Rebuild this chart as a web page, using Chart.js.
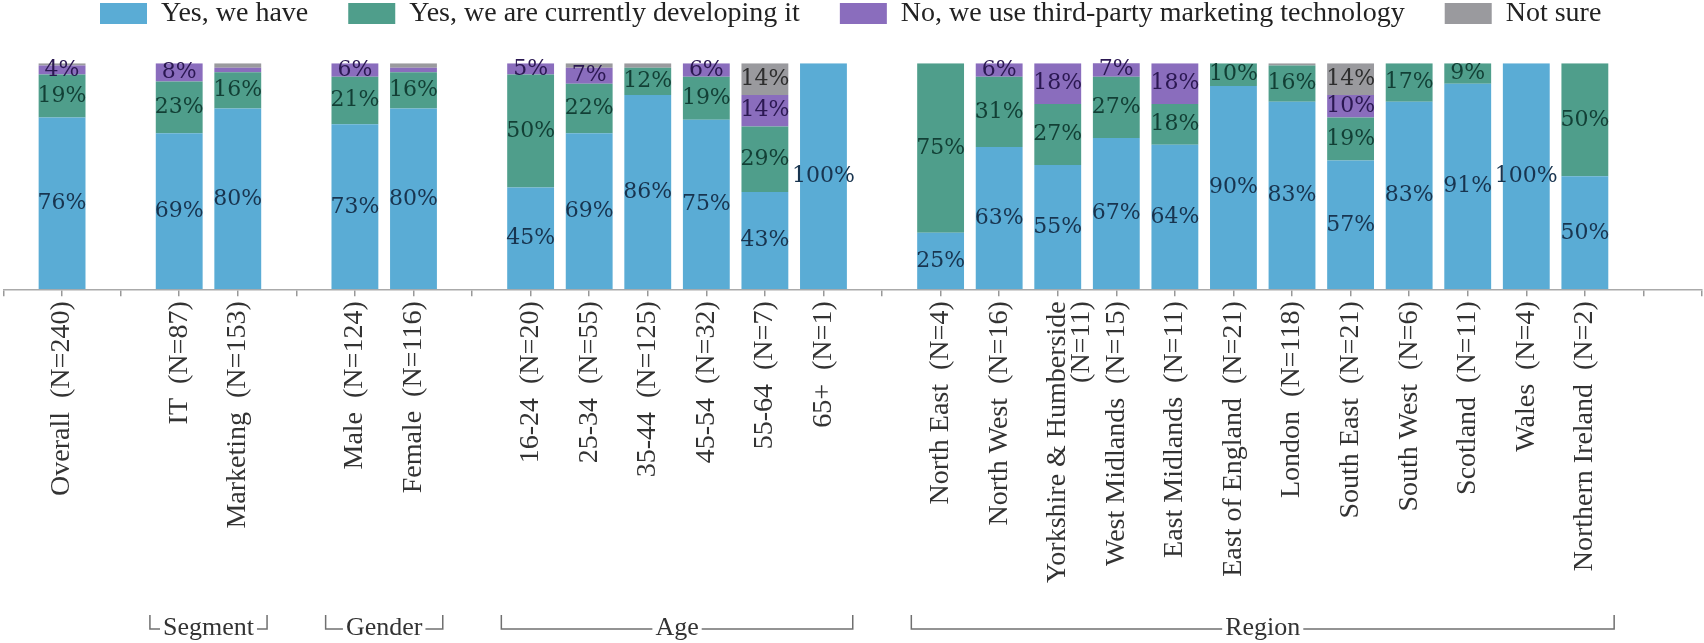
<!DOCTYPE html>
<html lang="en">
<head>
<meta charset="utf-8">
<title>Own marketing technology</title>
<script src="https://cdn.jsdelivr.net/npm/chart.js@4.4.1/dist/chart.umd.min.js"></script>
<style>
  body { margin: 0; background: #fff; }
  #wrap { width: 1704px; height: 643px; }
</style>
</head>
<body>
<div id="wrap"><canvas id="grafico" width="1704" height="643"></canvas></div>
<script>
// categories: empty strings are the spacer columns between groups
const categorias = [
  "", "Overall  (N=240)", "",
  "IT  (N=87)", "Marketing  (N=153)", "",
  "Male  (N=124)", "Female  (N=116)", "",
  "16-24  (N=20)", "25-34  (N=55)", "35-44  (N=125)", "45-54  (N=32)", "55-64  (N=7)", "65+  (N=1)", "",
  "North East  (N=4)", "North West  (N=16)", ["Yorkshire & Humberside", "(N=11)"], "West Midlands  (N=15)",
  "East Midlands  (N=11)", "East of England  (N=21)", "London  (N=118)", "South East  (N=21)",
  "South West  (N=6)", "Scotland  (N=11)", "Wales  (N=4)", "Northern Ireland  (N=2)", "", ""
]

const series = [
  "Yes, we have",
  "Yes, we are currently developing it",
  "No, we use third-party marketing technology",
  "Not sure"
]

const siTenemos = [null, 76, null, 69, 80, null, 73, 80, null, 45, 69, 86, 75, 43, 100, null,
  25, 63, 55, 67, 64, 90, 83, 57, 83, 91, 100, 50, null, null]
const desarrollando = [null, 19, null, 23, 16, null, 21, 16, null, 50, 22, 12, 19, 29, 0, null,
  75, 31, 27, 27, 18, 10, 16, 19, 17, 9, 0, 50, null, null]
const terceros = [null, 4, null, 8, 2, null, 6, 2, null, 5, 7, 0, 6, 14, 0, null,
  0, 6, 18, 7, 18, 0, 0, 10, 0, 0, 0, 0, null, null]
const noSeguro = [null, 1, null, 0, 2, null, 0, 2, null, 0, 2, 2, 0, 14, 0, null,
  0, 0, 0, 0, 0, 0, 1, 14, 0, 0, 0, 0, null, null]

// brackets under the axis
const grupos = ["Segment", "Gender", "Age", "Region"]
const gruposInicio = [3, 6, 9, 16]
const gruposFin = [4, 7, 14, 27]

const colores = ["#5aacd5", "#4f9e8b", "#8a6dbd", "#9a9a9e"]
const coloresTexto = ["#18344f", "#123f35", "#2b1852", "#2e2e2e"]


///PERCENT LABELS INSIDE EACH SEGMENT
const etiquetasPlugin = {
  id: "etiquetas",
  afterDatasetsDraw(chart) {
    const ctx = chart.ctx
    ctx.save()
    ctx.font = '22px "DejaVu Serif"'
    ctx.textAlign = "center"
    ctx.textBaseline = "middle"
    chart.data.datasets.forEach((ds, i) => {
      const meta = chart.getDatasetMeta(i)
      meta.data.forEach((barra, j) => {
        const v = ds.data[j]
        if (v == null || v < 3) return
        const {x, y, base} = barra.getProps(["x", "y", "base"], true)
        ctx.fillStyle = coloresTexto[i]
        ctx.fillText(v + "%", x, (y + base) / 2)
      })
    })
    ctx.restore()
  }
}


///LEGEND ROW AT THE TOP
const leyendaPlugin = {
  id: "leyenda",
  afterDraw(chart) {
    const ctx = chart.ctx
    ctx.save()
    ctx.font = '28px "Liberation Serif"'
    ctx.textBaseline = "middle"
    let x = 100
    chart.data.datasets.forEach((ds) => {
      ctx.fillStyle = ds.backgroundColor
      ctx.fillRect(x, 3, 47, 21)
      x += 47 + 14
      ctx.fillStyle = "#222"
      ctx.fillText(ds.label, x, 14)
      x += ctx.measureText(ds.label).width + 40
    })
    ctx.restore()
  }
}


///GROUP BRACKETS BELOW THE CATEGORY LABELS
const gruposPlugin = {
  id: "grupos",
  afterDraw(chart) {
    const ctx = chart.ctx
    const escala = chart.scales.x
    const mitad = (escala.getPixelForValue(1) - escala.getPixelForValue(0)) / 2
    const yLinea = 629
    ctx.save()
    ctx.font = '26px "Liberation Serif"'
    ctx.textAlign = "center"
    ctx.textBaseline = "middle"
    grupos.forEach((nombre, k) => {
      const x0 = escala.getPixelForValue(gruposInicio[k]) - mitad
      const x1 = escala.getPixelForValue(gruposFin[k]) + mitad
      const cx = (x0 + x1) / 2
      ctx.strokeStyle = "#707070"
      ctx.lineWidth = 1.5
      ctx.beginPath()
      ctx.moveTo(x0, yLinea - 14)
      ctx.lineTo(x0, yLinea)
      ctx.lineTo(x1, yLinea)
      ctx.lineTo(x1, yLinea - 14)
      ctx.stroke()
      const w = ctx.measureText(nombre).width
      ctx.fillStyle = "#fff"
      ctx.fillRect(cx - w / 2 - 3, yLinea - 8, w + 6, 16)
      ctx.fillStyle = "#333"
      ctx.fillText(nombre, cx, yLinea - 1)
    })
    ctx.restore()
  }
}


const datos = [siTenemos, desarrollando, terceros, noSeguro]

const config = {
  type: "bar",
  data: {
    labels: categorias,
    datasets: datos.map((valores, i) => ({
      label: series[i],
      data: valores,
      backgroundColor: colores[i],
      barPercentage: 0.8,
      categoryPercentage: 1
    }))
  },
  options: {
    responsive: false,
    animation: false,
    events: [],
    devicePixelRatio: 1,
    layout: {
      padding: {top: 63.3, left: 3.5, right: 2, bottom: 53.7}
    },
    plugins: {
      legend: {display: false},
      tooltip: {enabled: false}
    },
    scales: {
      x: {
        stacked: true,
        offset: false,
        grid: {
          offset: false,
          drawOnChartArea: false,
          tickLength: 7,
          color: "#999",
          lineWidth: 1.5
        },
        border: {display: true, color: "#aaa", width: 1.5},
        ticks: {
          autoSkip: false,
          minRotation: 90,
          maxRotation: 90,
          padding: 5,
          color: "#333",
          font: {family: "Liberation Serif", size: 28, lineHeight: 0.85}
        },
        afterFit(escala) {
          // fixed axis band, no extra side padding for the rotated labels
          escala.height = 300
          escala.paddingLeft = 0
          escala.paddingRight = 0
        }
      },
      y: {
        stacked: true,
        display: false,
        min: 0,
        max: 100
      }
    }
  },
  plugins: [etiquetasPlugin, leyendaPlugin, gruposPlugin]
}

new Chart(document.getElementById("grafico"), config)
</script>
</body>
</html>
